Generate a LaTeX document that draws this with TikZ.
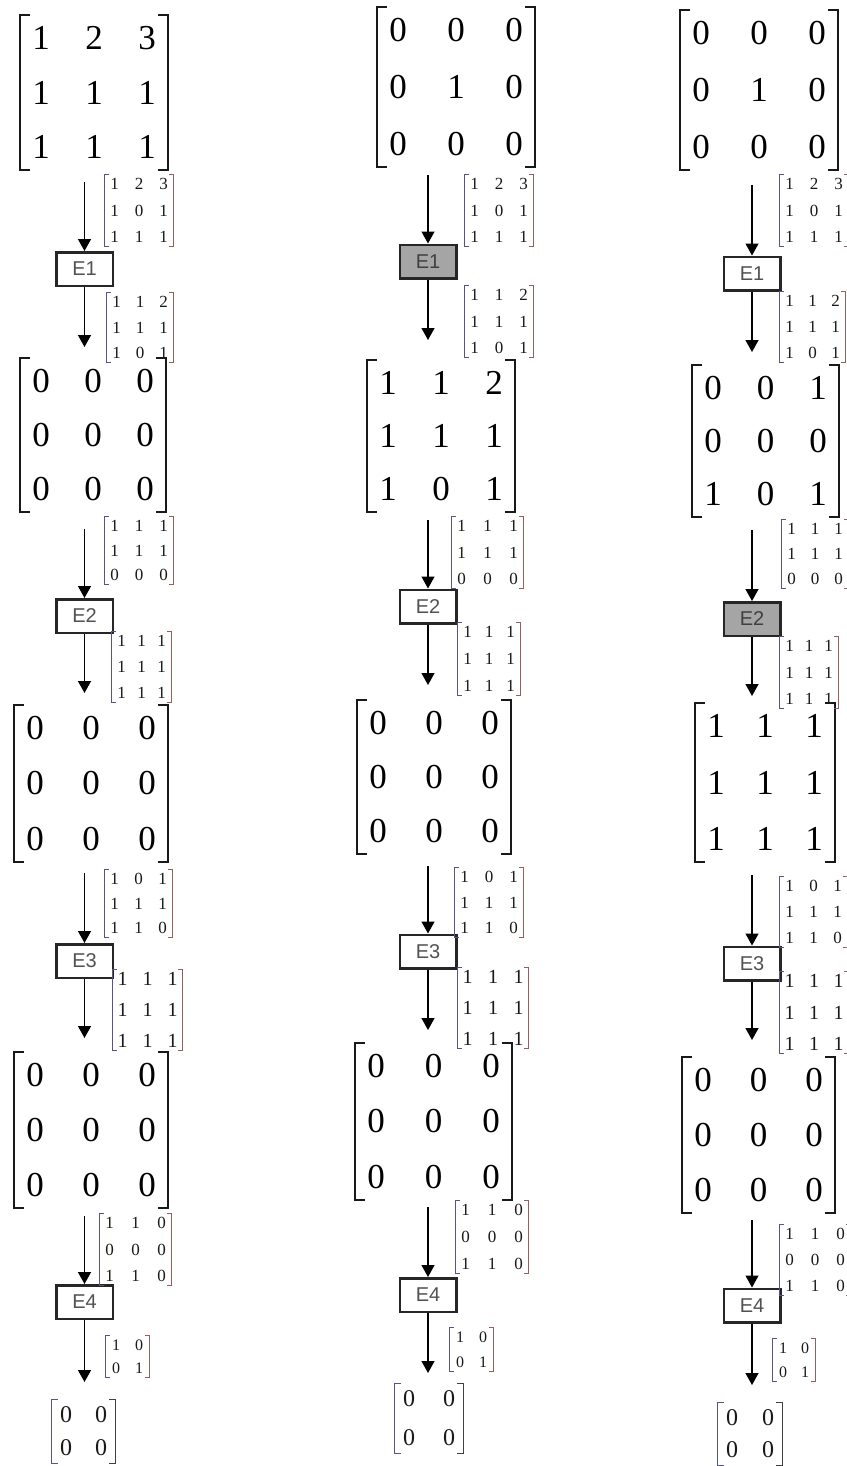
\documentclass[tikz,border=0pt]{standalone}
\usepackage{fontspec}
\setmainfont{Liberation Serif}
\newfontfamily\boxfont{Liberation Sans}
\usetikzlibrary{arrows.meta,matrix}
\definecolor{lbr}{RGB}{85,85,135}
\definecolor{rbr}{RGB}{150,95,95}
\definecolor{shade}{RGB}{165,165,165}
\tikzset{
  bigm/.style={matrix of nodes, ampersand replacement=\&, inner sep=0pt,
    nodes={inner sep=0pt, minimum width=42pt, minimum height=46pt,
      font=\fontsize{35}{35}\selectfont, text=black}},
  smm/.style={matrix of nodes, ampersand replacement=\&, inner sep=0pt,
    nodes={inner sep=0pt, minimum width=19pt, minimum height=18pt,
      font=\fontsize{#1}{#1}\selectfont, text=black!90}},
  smb/.style={matrix of nodes, ampersand replacement=\&, inner sep=0pt,
    nodes={inner sep=0pt, minimum width=20pt, minimum height=18pt,
      font=\fontsize{16}{16}\selectfont, text=black!90}},
  resm/.style={matrix of nodes, ampersand replacement=\&, inner sep=0pt,
    nodes={inner sep=0pt, minimum width=28pt, minimum height=30pt,
      font=\fontsize{24}{24}\selectfont, text=black!90}},
  bigbrk/.style={draw=black!90, line width=1.6pt},
  lsmall/.style={draw=lbr, line width=1pt},
  rsmall/.style={draw=rbr, line width=1pt},
  ebox/.style={draw=black!85, line width=2.5pt, fill=white, minimum width=56.5pt,
    minimum height=33.5pt, inner sep=0pt, font=\boxfont\fontsize{20}{20}\selectfont,
    text=black!68},
  eshade/.style={ebox, fill=shade, text=black!75},
  arr/.style={draw=black, line width=1.3pt, -{Triangle[width=13pt,length=12pt]}},
}
% brackets: name, serif, left style, right style
\newcommand\brk[4]{%
  \draw[#3] ([xshift=#2]#1.north west) -- (#1.north west) -- (#1.south west) -- ([xshift=#2]#1.south west);
  \draw[#4] ([xshift=-#2]#1.north east) -- (#1.north east) -- (#1.south east) -- ([xshift=-#2]#1.south east);}
% big 3x3 matrix: name, L, R, T, B, body
\newcommand\BigM[6]{%
  \pgfmathsetmacro\mxcx{(#2+#3)/2}\pgfmathsetmacro\mxcy{-(#4+#5)/2}%
  \pgfmathsetmacro\mxcs{(#3-#2-126)/2}\pgfmathsetmacro\mxrs{(#5-#4-138)/2}%
  \matrix (#1) [bigm, column sep=\mxcs pt, row sep=\mxrs pt] at (\mxcx pt,\mxcy pt) {#6};
  \brk{#1}{10pt}{bigbrk}{bigbrk}}
% small 3x3 matrix: [font size] name, L, R, T, B, body
\newcommand\SmM[7][17]{%
  \pgfmathsetmacro\mxcx{(#3+#4)/2}\pgfmathsetmacro\mxcy{-(#5+#6)/2}%
  \pgfmathsetmacro\mxcs{(#4-#3-57)/2}\pgfmathsetmacro\mxrs{(#6-#5-54)/2}%
  \matrix (#2) [smm=#1, column sep=\mxcs pt, row sep=\mxrs pt] at (\mxcx pt,\mxcy pt) {#7};
  \brk{#2}{4pt}{lsmall}{rsmall}}
% small 2x2 matrix
\newcommand\SmB[6]{%
  \pgfmathsetmacro\mxcx{(#2+#3)/2}\pgfmathsetmacro\mxcy{-(#4+#5)/2}%
  \pgfmathsetmacro\mxcs{#3-#2-40}\pgfmathsetmacro\mxrs{#5-#4-36}%
  \matrix (#1) [smb, column sep=\mxcs pt, row sep=\mxrs pt] at (\mxcx pt,\mxcy pt) {#6};
  \brk{#1}{4pt}{lsmall}{rsmall}}
% result 2x2 matrix
\newcommand\ResM[6]{%
  \pgfmathsetmacro\mxcx{(#2+#3)/2}\pgfmathsetmacro\mxcy{-(#4+#5)/2}%
  \pgfmathsetmacro\mxcs{#3-#2-56}\pgfmathsetmacro\mxrs{#5-#4-60}%
  \matrix (#1) [resm, column sep=\mxcs pt, row sep=\mxrs pt] at (\mxcx pt,\mxcy pt) {#6};
  \brk{#1}{6pt}{lsmall}{draw=black!75,line width=1.1pt}}
\begin{document}
\begin{tikzpicture}[x=1pt,y=1pt]
\useasboundingbox (0,0) rectangle (846,-1466);
\fill[white] (0,0) rectangle (846,-1466);

% ================= column 1 =================
\BigM{M11}{20}{168}{15}{170}{1\&2\&3\\1\&1\&1\\1\&1\&1\\}
\BigM{M12}{20}{166}{358}{512}{0\&0\&0\\0\&0\&0\\0\&0\&0\\}
\BigM{M13}{14}{168}{705}{862}{0\&0\&0\\0\&0\&0\\0\&0\&0\\}
\BigM{M14}{14}{168}{1052}{1208}{0\&0\&0\\0\&0\&0\\0\&0\&0\\}
\ResM{R1}{52}{115}{1400}{1463}{0\&0\\0\&0\\}

\node[ebox] (E11) at (84.5,-269) {E1};
\node[ebox] (E12) at (84.5,-616) {E2};
\node[ebox] (E13) at (84.5,-961) {E3};
\node[ebox] (E14) at (84.5,-1302) {E4};

\SmM{S11a}{105}{173}{175}{246}{1\&2\&3\\1\&0\&1\\1\&1\&1\\}
\SmM{S11b}{107}{173}{293}{362}{1\&1\&2\\1\&1\&1\\1\&0\&1\\}
\SmM{S12a}{105}{173}{517}{584}{1\&1\&1\\1\&1\&1\\0\&0\&0\\}
\SmM{S12b}{112}{171}{632}{702}{1\&1\&1\\1\&1\&1\\1\&1\&1\\}
\SmM{S13a}{105}{172}{870}{937}{1\&0\&1\\1\&1\&1\\1\&1\&0\\}
\SmM[20]{S13b}{113}{182}{970}{1050}{1\&1\&1\\1\&1\&1\\1\&1\&1\\}
\SmM{S14a}{100}{171}{1214}{1285}{1\&1\&0\\0\&0\&0\\1\&1\&0\\}
\SmB{S14b}{106}{149}{1336}{1377}{1\&0\\0\&1\\}

\coordinate (a11) at (84.5,-182);  \coordinate (t11) at (84.5,-347);
\coordinate (a12) at (84.5,-529);  \coordinate (t12) at (84.5,-693);
\coordinate (a13) at (84.5,-873);  \coordinate (t13) at (84.5,-1038);
\coordinate (a14) at (84.5,-1216); \coordinate (t14) at (84.5,-1382);
\draw[arr] (a11) -- (E11.north); \draw[arr] (E11.south) -- (t11);
\draw[arr] (a12) -- (E12.north); \draw[arr] (E12.south) -- (t12);
\draw[arr] (a13) -- (E13.north); \draw[arr] (E13.south) -- (t13);
\draw[arr] (a14) -- (E14.north); \draw[arr] (E14.south) -- (t14);

% ================= column 2 =================
\BigM{M21}{377}{535}{7}{167}{0\&0\&0\\0\&1\&0\\0\&0\&0\\}
\BigM{M22}{367}{515}{360}{512}{1\&1\&2\\1\&1\&1\\1\&0\&1\\}
\BigM{M23}{357}{511}{700}{854}{0\&0\&0\\0\&0\&0\\0\&0\&0\\}
\BigM{M24}{355}{512}{1043}{1200}{0\&0\&0\\0\&0\&0\\0\&0\&0\\}
\ResM{R2}{395}{463}{1384}{1453}{0\&0\\0\&0\\}

\node[eshade] (E21) at (428,-261.5) {E1};
\node[ebox] (E22) at (428,-606.5) {E2};
\node[ebox] (E23) at (428,-951.5) {E3};
\node[ebox] (E24) at (428,-1295) {E4};

\SmM{S21a}{465}{533}{175}{246}{1\&2\&3\\1\&0\&1\\1\&1\&1\\}
\SmM{S21b}{465}{533}{286}{357}{1\&1\&2\\1\&1\&1\\1\&0\&1\\}
\SmM{S22a}{452}{523}{517}{588}{1\&1\&1\\1\&1\&1\\0\&0\&0\\}
\SmM{S22b}{458}{520}{623}{695}{1\&1\&1\\1\&1\&1\\1\&1\&1\\}
\SmM{S23a}{455}{523}{868}{937}{1\&0\&1\\1\&1\&1\\1\&1\&0\\}
\SmM[20]{S23b}{458}{528}{968}{1048}{1\&1\&1\\1\&1\&1\\1\&1\&1\\}
\SmM{S24a}{456}{528}{1201}{1273}{1\&1\&0\\0\&0\&0\\1\&1\&0\\}
\SmB{S24b}{450}{493}{1328}{1371}{1\&0\\0\&1\\}

\coordinate (a21) at (428,-175);  \coordinate (t21) at (428,-340);
\coordinate (a22) at (428,-520);  \coordinate (t22) at (428,-685);
\coordinate (a23) at (428,-866);  \coordinate (t23) at (428,-1030);
\coordinate (a24) at (428,-1207); \coordinate (t24) at (428,-1373);
\draw[arr] (a21) -- (E21.north); \draw[arr] (E21.south) -- (t21);
\draw[arr] (a22) -- (E22.north); \draw[arr] (E22.south) -- (t22);
\draw[arr] (a23) -- (E23.north); \draw[arr] (E23.south) -- (t23);
\draw[arr] (a24) -- (E24.north); \draw[arr] (E24.south) -- (t24);

% ================= column 3 =================
\BigM{M31}{680}{838}{10}{170}{0\&0\&0\\0\&1\&0\\0\&0\&0\\}
\BigM{M32}{692}{839}{365}{517}{0\&0\&1\\0\&0\&0\\1\&0\&1\\}
\BigM{M33}{695}{835}{703}{862}{1\&1\&1\\1\&1\&1\\1\&1\&1\\}
\BigM{M34}{682}{835}{1057}{1213}{0\&0\&0\\0\&0\&0\\0\&0\&0\\}
\ResM{R3}{718}{782}{1403}{1465}{0\&0\\0\&0\\}

\node[ebox] (E31) at (752,-273.5) {E1};
\node[eshade] (E32) at (752,-619) {E2};
\node[ebox] (E33) at (752,-963.5) {E3};
\node[ebox] (E34) at (752,-1305.5) {E4};

\SmM{S31a}{780}{848}{175}{246}{1\&2\&3\\1\&0\&1\\1\&1\&1\\}
\SmM{S31b}{780}{845}{292}{362}{1\&1\&2\\1\&1\&1\\1\&0\&1\\}
\SmM{S32a}{782}{848}{520}{588}{1\&1\&1\\1\&1\&1\\0\&0\&0\\}
\SmM{S32b}{780}{838}{637}{708}{1\&1\&1\\1\&1\&1\\1\&1\&1\\}
\SmM{S33a}{780}{847}{877}{947}{1\&0\&1\\1\&1\&1\\1\&1\&0\\}
\SmM[20]{S33b}{780}{848}{972}{1053}{1\&1\&1\\1\&1\&1\\1\&1\&1\\}
\SmM{S34a}{780}{850}{1225}{1295}{1\&1\&0\\0\&0\&0\\1\&1\&0\\}
\SmB{S34b}{773}{815}{1339}{1381}{1\&0\\0\&1\\}

\coordinate (a31) at (752,-185);  \coordinate (t31) at (752,-352);
\coordinate (a32) at (752,-530);  \coordinate (t32) at (752,-696);
\coordinate (a33) at (752,-875);  \coordinate (t33) at (752,-1040);
\coordinate (a34) at (752,-1220); \coordinate (t34) at (752,-1385);
\draw[arr] (a31) -- (E31.north); \draw[arr] (E31.south) -- (t31);
\draw[arr] (a32) -- (E32.north); \draw[arr] (E32.south) -- (t32);
\draw[arr] (a33) -- (E33.north); \draw[arr] (E33.south) -- (t33);
\draw[arr] (a34) -- (E34.north); \draw[arr] (E34.south) -- (t34);
\end{tikzpicture}
\end{document}
